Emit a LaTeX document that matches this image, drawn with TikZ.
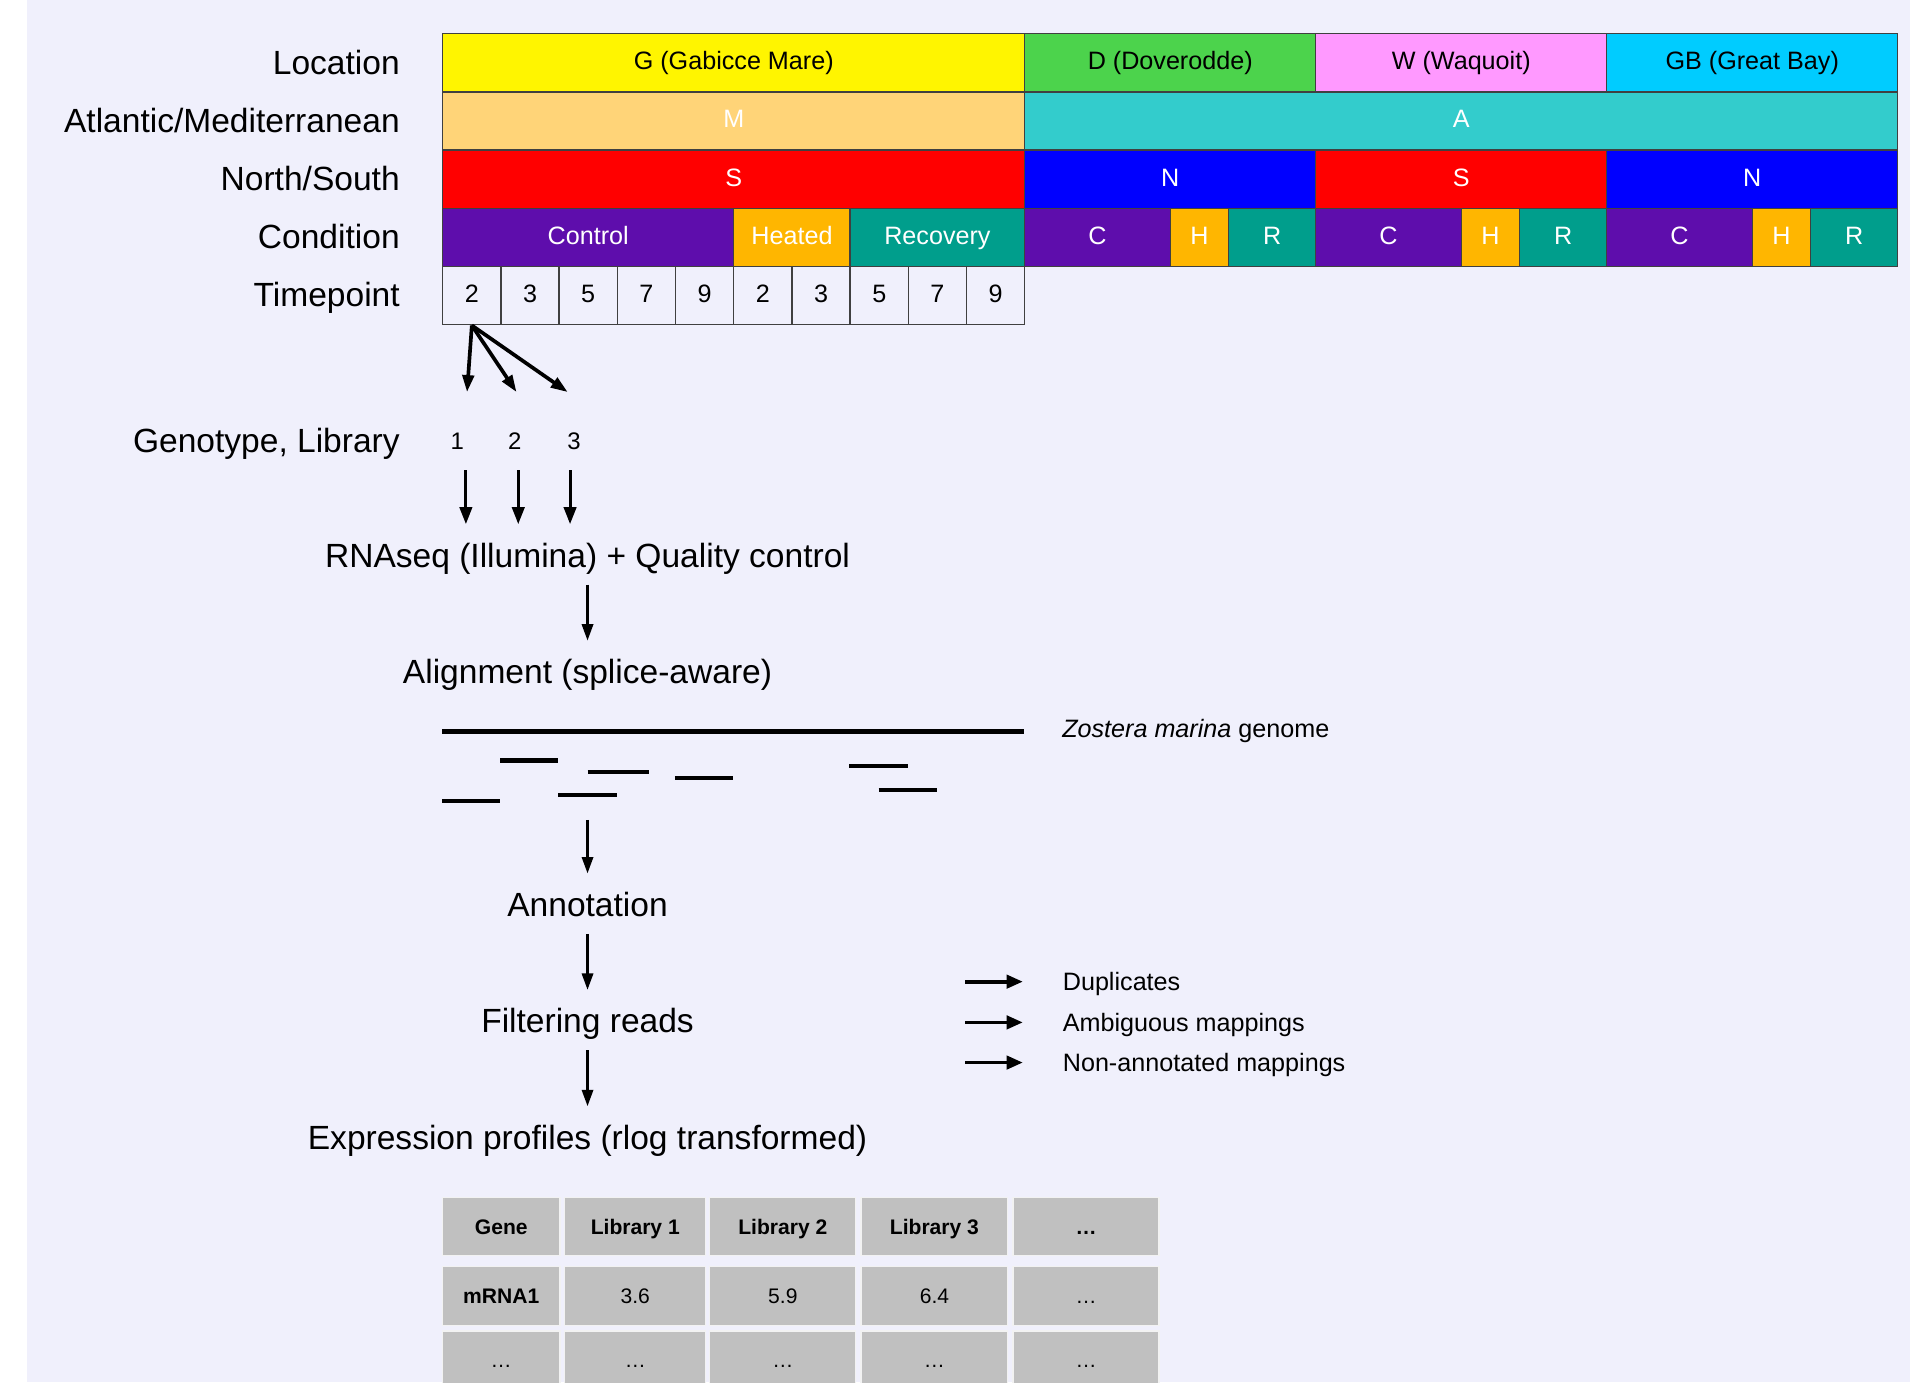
\documentclass[tikz,border=0pt]{standalone}
\usepackage{fontspec}
\setmainfont{Liberation Sans}
\usetikzlibrary{arrows.meta}

% Colours
\definecolor{bgcol}{RGB}{240,240,252}
\definecolor{locG}{RGB}{255,245,0}
\definecolor{locD}{RGB}{76,211,76}
\definecolor{locW}{RGB}{255,153,255}
\definecolor{locGB}{RGB}{0,204,255}
\definecolor{medcol}{RGB}{255,212,120}
\definecolor{atlcol}{RGB}{51,204,204}
\definecolor{southcol}{RGB}{255,0,0}
\definecolor{northcol}{RGB}{0,0,255}
\definecolor{ctrl}{RGB}{94,13,172}
\definecolor{heat}{RGB}{255,182,0}
\definecolor{reco}{RGB}{0,158,140}
\definecolor{tgray}{RGB}{192,192,192}

% Fonts
\newcommand{\labfont}{\fontsize{16.4}{19}\selectfont}
\newcommand{\cellfont}{\fontsize{12.3}{15}\selectfont}
\newcommand{\numfont}{\fontsize{11.7}{14}\selectfont}
\newcommand{\tabfont}{\fontsize{10.3}{12}\selectfont}

\tikzset{
    txt/.style={inner sep=0pt},
    bigtxt/.style={txt, font=\labfont, text height=15.1pt, text depth=3.3pt},
    smalltxt/.style={txt, font=\cellfont, text height=11.3pt, text depth=2.5pt},
    cell/.style={smalltxt, text depth=4.5pt, draw=black!75, line width=0.7pt, anchor=north west, minimum height=1cm},
    wcell/.style={cell, text=white},
    rowlabel/.style={bigtxt, anchor=east},
    stage/.style={bigtxt, text depth=5pt},
    libnum/.style={txt, font=\numfont, text height=10.8pt, text depth=2.3pt},
    legtext/.style={smalltxt, anchor=west},
    tcell/.style={txt, font=\tabfont, text height=9.5pt, text depth=2.1pt, fill=tgray, draw=white!80!tgray, line width=0.6pt, anchor=north west},
    fan/.style={line width=1.8pt, -{Triangle[length=8.3pt,width=5.6pt]}},
    lib/.style={line width=1.5pt, -{Triangle[length=8.3pt,width=6pt]}, shorten <=0.28cm, shorten >=0.2cm},
    flow/.style={line width=1.2pt, -{Triangle[length=8pt,width=5.5pt]}, shorten <=0.18cm, shorten >=0.2cm},
    legarrow/.style={line width=1.8pt, -{Triangle[length=8pt,width=6.5pt]}, shorten >=0.68cm},
    genome/.style={line width=2.2pt},
    readbar/.style={line width=2pt}
}

\begin{document}
\begin{tikzpicture}[x=1cm, y=1cm]

    % Canvas
    \useasboundingbox (-7.595, 0.567) rectangle (25.223, -23.179);
    \fill [white] (-7.595, 0.567) rectangle (25.223, -23.179);
    \fill [bgcol] (-7.131, 0.567) rectangle (25.223, -23.179);

    % Row labels
    \foreach \lab [count=\r from 0] in {Location, Atlantic/Mediterranean, North/South, Condition, Timepoint} {
            \node [rowlabel] (lab\r) at (-0.72, {-\r - 0.5}) {\lab};
        }

    % Location
    \node [cell, fill=locG, minimum width=10cm] (locg) at (0, 0) {G (Gabicce Mare)};
    \node [cell, fill=locD, minimum width=5cm] (locd) at (10, 0) {D (Doverodde)};
    \node [cell, fill=locW, minimum width=5cm] (locw) at (15, 0) {W (Waquoit)};
    \node [cell, fill=locGB, minimum width=5cm] (locgb) at (20, 0) {GB (Great Bay)};

    % Atlantic / Mediterranean
    \node [wcell, fill=medcol, minimum width=10cm] (med) at (0, -1) {M};
    \node [wcell, fill=atlcol, minimum width=15cm] (atl) at (10, -1) {A};

    % North / South
    \node [wcell, fill=southcol, minimum width=10cm] (nsg) at (0, -2) {S};
    \node [wcell, fill=northcol, minimum width=5cm] (nsd) at (10, -2) {N};
    \node [wcell, fill=southcol, minimum width=5cm] (nsw) at (15, -2) {S};
    \node [wcell, fill=northcol, minimum width=5cm] (nsgb) at (20, -2) {N};

    % Condition
    \node [wcell, fill=ctrl, minimum width=5cm] (ctrlG) at (0, -3) {Control};
    \node [wcell, fill=heat, minimum width=2cm] (heatG) at (5, -3) {Heated};
    \node [wcell, fill=reco, minimum width=3cm] (recoG) at (7, -3) {Recovery};
    \foreach \s/\n in {10/D, 15/W, 20/GB} {
            \node [wcell, fill=ctrl, minimum width=2.5cm] (ctrl\n) at (\s, -3) {C};
            \node [wcell, fill=heat, minimum width=1cm] (heat\n) at (\s + 2.5, -3) {H};
            \node [wcell, fill=reco, minimum width=1.5cm] (reco\n) at (\s + 3.5, -3) {R};
        }

    % Timepoints
    \foreach \t [count=\i from 0] in {2,3,5,7,9,2,3,5,7,9} {
            \node [cell, minimum width=1cm] (tp\i) at (\i, -4) {\t};
        }

    % Genotypes
    \node [rowlabel] (geno) at (-0.72, -7) {Genotype, Library};
    \foreach \x [count=\i] in {0.26, 1.25, 2.27} {
            \node [libnum] (g\i) at (\x, -7) {\i};
        }
    \coordinate (f1) at (0.43, -6.17);
    \coordinate (f2) at (1.28, -6.17);
    \coordinate (f3) at (2.16, -6.17);
    \foreach \i in {1,2,3} {
            \draw [fan] (tp0.south) -- (f\i);
        }

    % Pipeline
    \node [stage] (rna) at (2.5, -9) {RNAseq (Illumina) + Quality control};
    \node [stage] (align) at (2.5, -11) {Alignment (splice-aware)};
    \node [stage] (anno) at (2.5, -15) {Annotation};
    \node [stage] (filt) at (2.5, -17) {Filtering reads};
    \node [stage] (expr) at (2.5, -19) {Expression profiles (rlog transformed)};

    \foreach \i/\dx in {1/0.15, 2/0.06, 3/-0.07} {
            \path (g\i.south) ++(\dx, 0) coordinate (l\i);
            \draw [lib] (l\i) -- (l\i |- rna.north);
        }
    \draw [flow, shorten <=0.12cm] (rna) -- (align);
    \coordinate (readsend) at (2.5, -13.52);
    \draw [flow, shorten <=0pt] (readsend) -- (anno);
    \draw [flow, shorten <=0.12cm] (anno) -- (filt);
    \draw [flow, shorten <=0.12cm] (filt) -- (expr);

    % Genome and reads
    \draw [genome] (0, -12) -- (10, -12);
    \node [legtext] (zos) at (10.65, -11.95) {\textit{Zostera marina} genome};
    \foreach \a/\b/\y in {1/2/12.5, 2.5/3.55/12.7, 4/5/12.8, 7/8/12.59, 7.5/8.5/13.0, 0/1/13.2, 2/3/13.09} {
            \draw [readbar] (\a, -\y) -- (\b, -\y);
        }

    % Filters
    \foreach \t/\y [count=\i] in {Duplicates/-16.3, Ambiguous mappings/-17.0, Non-annotated mappings/-17.69} {
            \node [legtext] (leg\i) at (10.66, \y) {\t};
            \draw [legarrow] ([xshift=-1.67cm]leg\i.west) -- (leg\i.west);
        }

    % Expression table
    \foreach \x/\w/\hd/\vl [count=\c] in {0/2.015/Gene/\textbf{mRNA1}, 2.10/2.42/Library 1/3.6, 4.59/2.51/Library 2/5.9, 7.19/2.52/Library 3/6.4, 9.80/2.51/\ldots/\ldots} {
            \node [tcell, minimum width=\w cm, minimum height=1cm] (th\c) at (\x, -20) {\bfseries \hd};
            \node [tcell, minimum width=\w cm, minimum height=1.01cm] (tv\c) at (\x, -21.19) {\vl};
            \node [tcell, minimum width=\w cm, minimum height=1.01cm] (te\c) at (\x, -22.29) {\ldots};
        }

\end{tikzpicture}
\end{document}
